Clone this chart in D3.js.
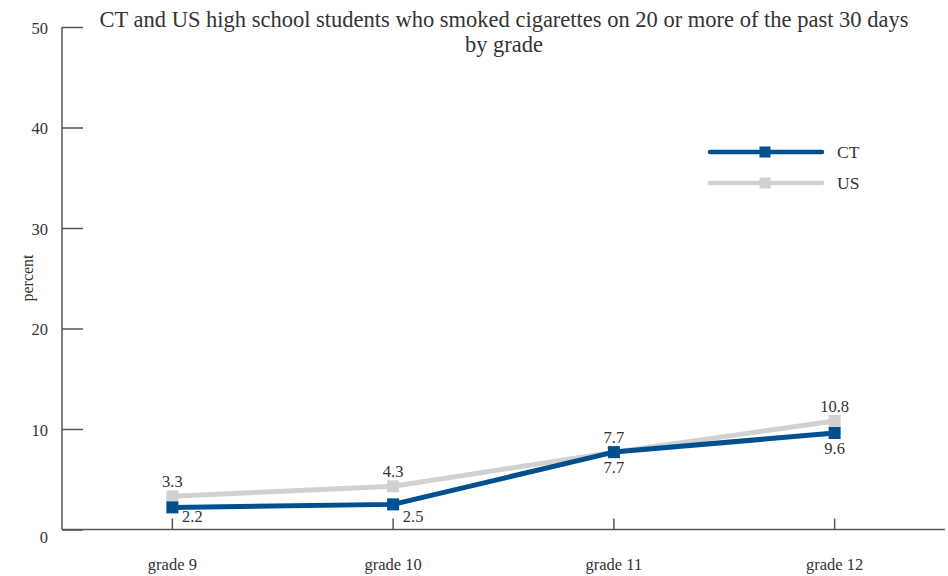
<!DOCTYPE html>
<html><head><meta charset="utf-8">
<script src="https://cdn.jsdelivr.net/npm/d3@7"></script>
<style>
body{margin:0;background:#fff;}
text{font-family:"Liberation Serif","Times New Roman",serif;fill:#333;}
</style></head>
<body><svg id="c" width="948" height="576"></svg>
<script>
const categories = ["grade 9","grade 10","grade 11","grade 12"];
const ctValues = [2.2, 2.5, 7.7, 9.6];
const usValues = [3.3, 4.3, 7.7, 10.8];
const yTicks = [0,10,20,30,40,50];
const seriesNames = ["CT","US"];
const titleLines = ["CT and US high school students who smoked cigarettes on 20 or more of the past 30 days","by grade"];

const svg = d3.select("#c");
const axisColor = "#555";
const ctColor = "#00508f", usColor = "#d0d1d3";

const x = d3.scaleBand().domain(categories).range([62, 945]);
const y = d3.scaleLinear().domain([0, 50]).range([529.5, 27]);
const cx = c => x(c) + x.bandwidth()/2;

// y axis
const yAxis = svg.append("g").attr("transform","translate(62,0)")
  .call(d3.axisRight(y).tickValues(yTicks).tickSize(21).tickFormat(""));
yAxis.select(".domain").attr("stroke",axisColor).attr("stroke-width",1.5).attr("d","M0,27V529.5");
yAxis.selectAll(".tick line").attr("stroke",axisColor).attr("stroke-width",1.5);
svg.selectAll(".ylab").data(yTicks).enter().append("text")
  .attr("x",48).attr("y",d=>y(d)+(d===0?10:3)).attr("text-anchor","end")
  .attr("dominant-baseline","middle").attr("font-size",16.5).text(d=>d);

// x axis
const xAxis = svg.append("g").attr("transform","translate(0,529.5)")
  .call(d3.axisTop(x).tickSize(11).tickFormat(""));
xAxis.select(".domain").attr("stroke",axisColor).attr("stroke-width",1.5).attr("d","M62,0H945");
xAxis.selectAll(".tick line").attr("stroke",axisColor).attr("stroke-width",1.5);
svg.selectAll(".xlab").data(categories).enter().append("text")
  .attr("x",d=>cx(d)).attr("y",570).attr("text-anchor","middle").attr("font-size",16.5).text(d=>d);

// y title
svg.append("text").attr("transform","translate(33,278) rotate(-90)")
  .attr("text-anchor","middle").attr("font-size",16).text("percent");

// title
svg.selectAll(".title").data(titleLines).enter().append("text")
  .attr("x",504).attr("y",(d,i)=>27+i*25).attr("text-anchor","middle").attr("font-size",22.5).text(d=>d);

const line = d3.line().x((d,i)=>cx(categories[i])).y(d=>y(d));
const ms = 12;
function drawSeries(vals, color){
  svg.append("path").datum(vals).attr("d",line).attr("fill","none")
    .attr("stroke",color).attr("stroke-width",5).attr("stroke-linejoin","round");
  svg.selectAll(null).data(vals).enter().append("rect")
    .attr("x",(d,i)=>cx(categories[i])-ms/2).attr("y",d=>y(d)-ms/2)
    .attr("width",ms).attr("height",ms).attr("fill",color);
}
drawSeries(usValues, usColor);
drawSeries(ctValues, ctColor);

// labels US above
svg.selectAll(null).data(usValues).enter().append("text")
  .attr("x",(d,i)=>cx(categories[i])).attr("y",d=>y(d)-9).attr("text-anchor","middle")
  .attr("font-size",16.5).text(d=>d.toFixed(1));
// labels CT below (shift right when close to axis)
svg.selectAll(null).data(ctValues).enter().append("text")
  .attr("x",(d,i)=>cx(categories[i]) + (d<5?20:0))
  .attr("y",d=> d<5 ? y(0)-8 : y(d)+21)
  .attr("text-anchor","middle").attr("font-size",16.5).text(d=>d.toFixed(1));

// legend
const leg = svg.append("g");
[ [seriesNames[0], ctColor, 152], [seriesNames[1], usColor, 183] ].forEach(([n,c,ly])=>{
  leg.append("line").attr("x1",710).attr("x2",822).attr("y1",ly).attr("y2",ly)
    .attr("stroke",c).attr("stroke-width",4.5).attr("stroke-linecap","round");
  leg.append("rect").attr("x",765-5.5).attr("y",ly-5.5).attr("width",11).attr("height",11).attr("fill",c);
  leg.append("text").attr("x",837).attr("y",ly+5.5).attr("font-size",17.5).text(n);
});
</script></body></html>
